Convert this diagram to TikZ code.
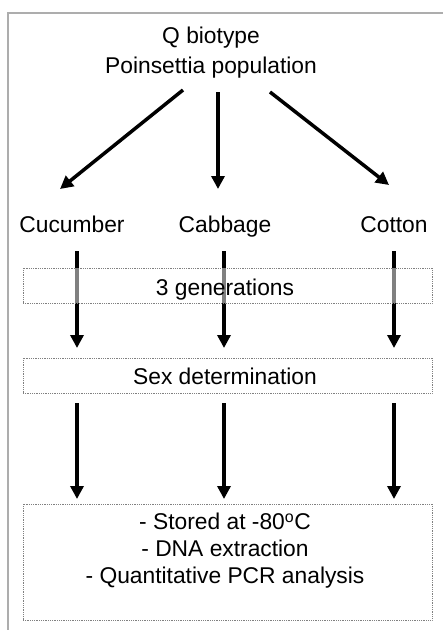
\documentclass[tikz,border=0pt]{standalone}
\usepackage{fontspec}
\setmainfont{Liberation Sans}
\usetikzlibrary{arrows.meta}
\begin{document}
\begin{tikzpicture}[x=1pt,y=-1pt,
  txt/.style={font=\fontsize{22.8}{27}\selectfont, inner sep=0pt, align=center},
  flow/.style={line width=3.5pt, -{Triangle[length=13pt,width=13pt]}},
  dbox/.style={draw=gray, densely dotted, line width=0.8pt},
  frame/.style={draw=black!32, line width=2pt}]
\useasboundingbox (0,0) rectangle (443,630);
\draw[frame] (443,13) -- (8,13) -- (8,630);
% texts
\node[txt] (src) at (211,53) {Q biotype\\[3pt]Poinsettia population};
\node[txt, anchor=base] (cuc) at (72,232) {Cucumber};
\node[txt, anchor=base] (cab) at (225,232) {Cabbage};
\node[txt, anchor=base] (cot) at (394,232) {Cotton};
% first arrows
\coordinate (s1) at (183,90);  \coordinate (t1) at (60,189);
\coordinate (s2) at (218,92);  \coordinate (t2) at (218,189);
\coordinate (s3) at (270,92);  \coordinate (t3) at (389,185);
\draw[flow] (s1) -- (t1);
\draw[flow] (s2) -- (t2);
\draw[flow] (s3) -- (t3);
% second arrows
\coordinate (a1) at (77,251);  \coordinate (b1) at (77,348);
\coordinate (a2) at (224,251); \coordinate (b2) at (224,348);
\coordinate (a3) at (394,251); \coordinate (b3) at (394,348);
\draw[flow] (a1) -- (b1);
\draw[flow] (a2) -- (b2);
\draw[flow] (a3) -- (b3);
% boxes
\node[dbox, fill=white, fill opacity=0.5, text opacity=1, minimum width=409pt, minimum height=35pt, inner sep=0pt] (gen) at (227.5,285.5) {};
\node[txt, anchor=base] (gentxt) at (225,295) {3 generations};
\node[dbox, fill=white, minimum width=409pt, minimum height=35pt, inner sep=0pt] (sex) at (227.5,375.5) {};
\node[txt, anchor=base] (sextxt) at (225,384) {Sex determination};
% third arrows
\coordinate (c1) at (77,403);  \coordinate (d1) at (77,499);
\coordinate (c2) at (224,403); \coordinate (d2) at (224,499);
\coordinate (c3) at (394,403); \coordinate (d3) at (394,499);
\draw[flow] (c1) -- (d1);
\draw[flow] (c2) -- (d2);
\draw[flow] (c3) -- (d3);
\node[dbox, minimum width=409pt, minimum height=116pt, inner sep=0pt] (fin) at (227.5,562) {};
\node[txt] (fintxt) at (225,551) {- Stored at -80\textsuperscript{o}C\\- DNA extraction\\- Quantitative PCR analysis};
\end{tikzpicture}
\end{document}
